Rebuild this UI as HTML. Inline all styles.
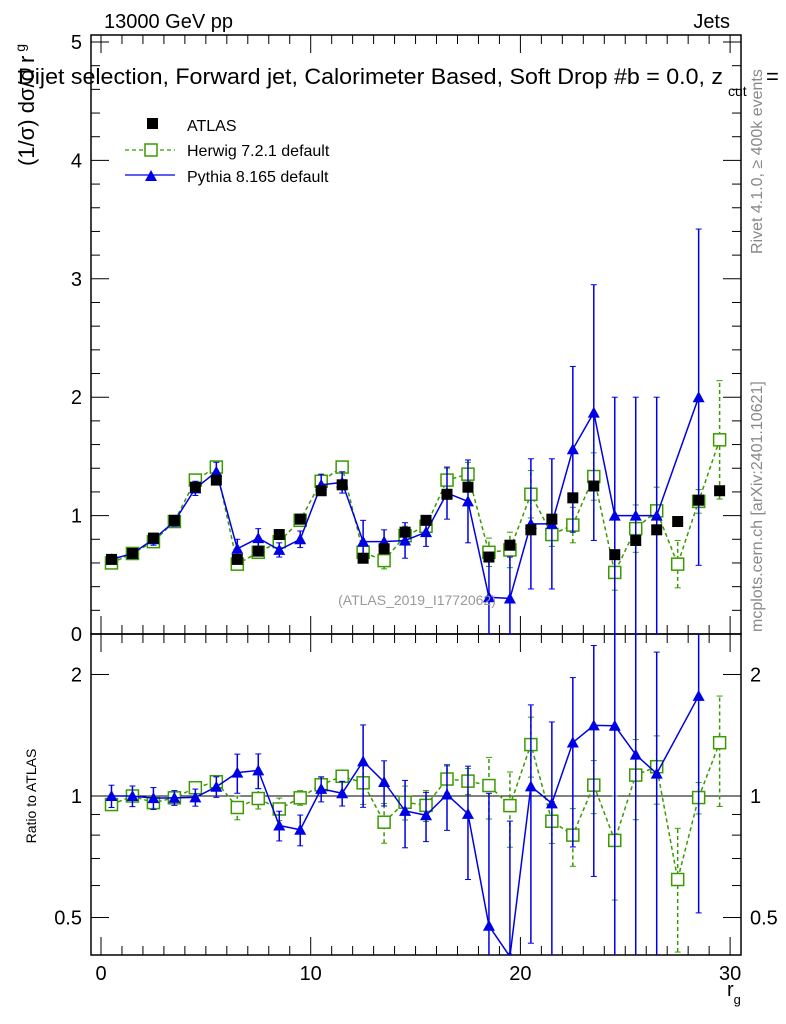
<!DOCTYPE html>
<html><head><meta charset="utf-8"><style>
html,body{margin:0;padding:0;background:#fff;overflow:hidden;width:786px;height:1024px}
svg{display:block;font-family:"Liberation Sans",sans-serif}
</style></head><body>
<svg id="c" width="786" height="1024" viewBox="0 0 786 1024">
<defs>
<clipPath id="cm"><rect x="91" y="35" width="650" height="599"/></clipPath>
<clipPath id="cr"><rect x="91" y="634" width="650" height="321"/></clipPath>
</defs>
<g id="axes"></g>
<g id="marks"></g>
<text x="104" y="28" font-size="20">13000 GeV pp</text>
<text x="730" y="28" font-size="20" text-anchor="end">Jets</text>
<text x="18" y="84" font-size="22" textLength="705" lengthAdjust="spacingAndGlyphs">Dijet selection, Forward jet, Calorimeter Based, Soft Drop #b = 0.0, z</text>
<text x="728" y="96" font-size="14">cut</text>
<text x="766" y="84" font-size="22">=</text>
<text transform="translate(34,166) rotate(-90)" font-size="22">(1/σ) dσ/d r<tspan font-size="14" dy="-9" dx="4">g</tspan></text>
<text transform="translate(36,796) rotate(-90)" font-size="14" text-anchor="middle">Ratio to ATLAS</text>
<text x="727" y="996" font-size="20">r<tspan font-size="13" dy="8">g</tspan></text>
<text transform="translate(762,254) rotate(-90)" font-size="16" fill="#888">Rivet 4.1.0, ≥ 400k events</text>
<text transform="translate(762,632) rotate(-90)" font-size="16" fill="#888">mcplots.cern.ch [arXiv:2401.10621]</text>
<text x="417" y="605" font-size="14" fill="#999" text-anchor="middle">(ATLAS_2019_I1772062)</text>
<g>
<rect x="147" y="118" width="11" height="11" fill="#000"/>
<text x="187" y="131" font-size="16">ATLAS</text>
<line x1="125" y1="150" x2="175" y2="150" stroke="#3a9a00" stroke-width="1.3" stroke-dasharray="4,3"/>
<rect x="145" y="144" width="12" height="12" fill="#fff" stroke="#3a9a00" stroke-width="1.5"/>
<text x="187" y="156" font-size="16">Herwig 7.2.1 default</text>
<line x1="125" y1="175" x2="175" y2="175" stroke="#0000e6" stroke-width="1.3"/>
<path d="M145,181 L157,181 L151,170 Z" fill="#0000e6"/>
<text x="187" y="182" font-size="16">Pythia 8.165 default</text>
</g>
</svg>
<script>
const binCenters=[0.5,1.5,2.5,3.5,4.5,5.5,6.5,7.5,8.5,9.5,10.5,11.5,12.5,13.5,14.5,15.5,16.5,17.5,18.5,19.5,20.5,21.5,22.5,23.5,24.5,25.5,26.5,27.5,28.5,29.5];
const atlasVals=[0.63,0.68,0.81,0.96,1.24,1.30,0.63,0.70,0.84,0.97,1.21,1.26,0.64,0.72,0.86,0.96,1.18,1.24,0.65,0.75,0.88,0.97,1.15,1.25,0.67,0.79,0.88,0.95,1.13,1.21];
const herwigVals=[0.60,0.68,0.78,0.95,1.30,1.41,0.59,0.69,0.78,0.96,1.29,1.41,0.69,0.62,0.83,0.91,1.30,1.35,0.69,0.71,1.18,0.84,0.92,1.33,0.52,0.89,1.04,0.59,1.12,1.64];
const herwigErr=[0.02,0.02,0.02,0.03,0.04,0.04,0.04,0.04,0.05,0.04,0.05,0.05,0.08,0.07,0.08,0.08,0.1,0.1,0.12,0.15,0.2,0.1,0.15,0.2,0.15,0.2,0.2,0.2,0.1,0.5];
const pythiaVals=[0.63,0.68,0.80,0.95,1.23,1.37,0.72,0.81,0.71,0.80,1.26,1.28,0.78,0.78,0.79,0.86,1.19,1.12,0.31,0.30,0.93,0.93,1.56,1.87,1.00,1.00,1.00,null,2.00,null];
const pythiaErr=[0.04,0.04,0.05,0.04,0.06,0.08,0.08,0.08,0.06,0.07,0.09,0.09,0.18,0.1,0.15,0.12,0.22,0.35,0.35,0.35,0.55,0.55,0.7,1.08,1.0,1.0,1.0,null,1.42,null];
const yTicks=[0,1,2,3,4,5];
const xTicks=[0,10,20,30];
const rTicks=[0.5,1,2];

const NS="http://www.w3.org/2000/svg";
const L=91,R=741,T=35,MB=634,RB=955;
const xs=v=>101+v*20.97;
const ys=v=>634-v*118.4;
const rs=v=>796-Math.log2(v)*121.5;
const axes=document.getElementById('axes'),marks=document.getElementById('marks');
function mk(tag,at,par){const e=document.createElementNS(NS,tag);for(const k in at)e.setAttribute(k,at[k]);par.appendChild(e);return e;}
let f1=mk('rect',{x:L,y:T,width:R-L,height:MB-T,fill:'none',stroke:'#000','stroke-width':1.5},axes);


let f2=mk('rect',{x:L,y:MB,width:R-L,height:RB-MB,fill:'none',stroke:'#000','stroke-width':1.5},axes);


for(let v=0;v<=30;v++){const maj=v%10===0,len=maj?18:9;const x=xs(v);
 for(const [yb,yt] of [[MB,T],[RB,MB]]){mk('line',{x1:x,y1:yb,x2:x,y2:yb-len,stroke:'#000'},axes);mk('line',{x1:x,y1:yt,x2:x,y2:yt+len,stroke:'#000'},axes);}}
xTicks.forEach(v=>{const t=mk('text',{x:xs(v),y:980,'font-size':20,'text-anchor':'middle'},axes);t.textContent=v;

});
for(let i=0;i<=25;i++){const v=i*0.2;const y=ys(v);if(y<T)continue;const maj=i%5===0,len=maj?18:9;
 mk('line',{x1:L,y1:y,x2:L+len,y2:y,stroke:'#000'},axes);mk('line',{x1:R,y1:y,x2:R-len,y2:y,stroke:'#000'},axes);}
yTicks.forEach(v=>{const t=mk('text',{x:82,y:ys(v)+7,'font-size':20,'text-anchor':'end'},axes);t.textContent=v;

});
[0.4,0.5,0.6,0.7,0.8,0.9,1,2].forEach(v=>{const y=rs(v);if(y>RB||y<MB)return;const maj=rTicks.includes(v),len=maj?18:9;
 mk('line',{x1:L,y1:y,x2:L+len,y2:y,stroke:'#000'},axes);mk('line',{x1:R,y1:y,x2:R-len,y2:y,stroke:'#000'},axes);});
rTicks.forEach(v=>{const s=String(v);let t=mk('text',{x:82,y:rs(v)+7,'font-size':20,'text-anchor':'end'},axes);t.textContent=s;


t=mk('text',{x:750,y:rs(v)+7,'font-size':20},axes);t.textContent=s;

});
mk('line',{x1:L,y1:rs(1),x2:R,y2:rs(1),stroke:'#000'},axes);

const gm=mk('g',{'clip-path':'url(#cm)'},marks),gr=mk('g',{'clip-path':'url(#cr)'},marks);
function series(vals,errs,color,dash,kind,name,g,yf){
 let pts=[];vals.forEach((v,i)=>{if(v==null||v<=0)return;pts.push(xs(binCenters[i])+','+yf(v));});
 const pl=mk('polyline',{points:pts.join(' '),fill:'none',stroke:color,'stroke-width':1.5},g);
 if(dash)pl.setAttribute('stroke-dasharray',dash);
 
 
 vals.forEach((v,i)=>{if(v==null||v<=0)return;const x=xs(binCenters[i]),y=yf(v);
  if(errs&&errs[i]){const lo=Math.max(v-errs[i],1e-3),hi=v+errs[i];
   const e=mk('line',{x1:x,y1:yf(lo),x2:x,y2:yf(hi),stroke:color,'stroke-width':1.5},g);if(dash)e.setAttribute('stroke-dasharray','4,3');
   mk('line',{x1:x-3,y1:yf(hi),x2:x+3,y2:yf(hi),stroke:color},g);mk('line',{x1:x-3,y1:yf(lo),x2:x+3,y2:yf(lo),stroke:color},g);}
  let m;
  if(kind==='osq')m=mk('rect',{x:x-6,y:y-6,width:12,height:12,fill:'#fff',stroke:color,'stroke-width':1.5},g);
  else m=mk('path',{d:`M${x-6},${y+5}L${x+6},${y+5}L${x},${y-6}Z`,fill:color},g);
  
  });
}
series(herwigVals,herwigErr,'#3a9a00','4,3','osq','herwig',gm,ys);
series(pythiaVals,pythiaErr,'#0000e6',null,'tri','pythia',gm,ys);
atlasVals.forEach((v,i)=>{const x=xs(binCenters[i]),y=ys(v);const m=mk('rect',{x:x-5.5,y:y-5.5,width:11,height:11,fill:'#000'},gm);

});
const hr=herwigVals.map((v,i)=>v/atlasVals[i]),hre=herwigErr.map((e,i)=>e/atlasVals[i]);
const pr=pythiaVals.map((v,i)=>v==null?null:v/atlasVals[i]),pre=pythiaErr.map((e,i)=>e==null?null:e/atlasVals[i]);
series(hr,hre,'#3a9a00','4,3','osq','herwig-ratio',gr,rs);
series(pr,pre,'#0000e6',null,'tri','pythia-ratio',gr,rs);
</script>
</body></html>
